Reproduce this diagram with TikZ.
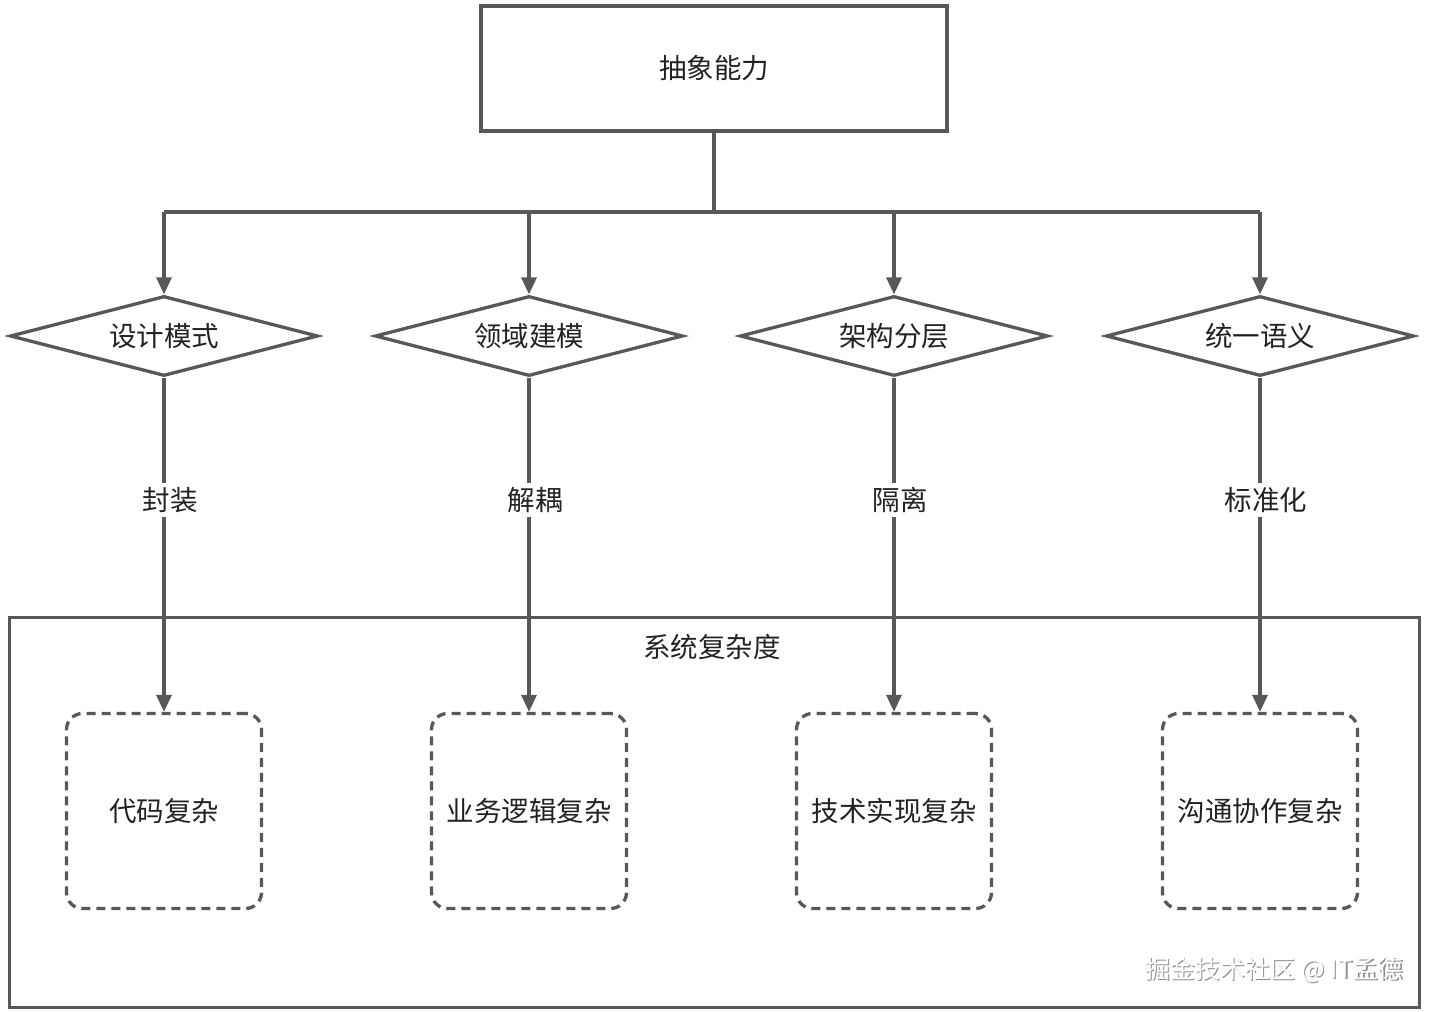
\documentclass[tikz,border=0pt]{standalone}
\usepackage{fontspec}
\setmainfont{Noto Sans CJK SC}
\usetikzlibrary{shapes.geometric,arrows.meta}
\definecolor{ln}{HTML}{585858}
\definecolor{tx}{HTML}{222222}
\tikzset{
  every node/.style={text=tx,font=\fontsize{27.5}{32}\selectfont},
  ln/.style={draw=ln,line width=3.3pt},
  arr/.style={ln,-{Triangle[length=17pt,width=15pt]}},
  dia/.style={diamond,ln,fill=white,minimum width=308pt,minimum height=80pt,inner sep=0pt,aspect=3.85},
  dbox/.style={ln,dash pattern=on 9pt off 6pt,rounded corners=16pt,minimum width=195pt,minimum height=195pt,inner sep=0pt},
  lbl/.style={fill=white,inner sep=4pt},
}
\begin{document}
\begin{tikzpicture}[x=1pt,y=-1pt]
\useasboundingbox (0,0) rectangle (1430,1012);
\node[ln,minimum width=466pt,minimum height=125pt] (top) at (714,68.5) {抽象能力};
\node[ln,minimum width=1410pt,minimum height=390pt,anchor=north west] (sys) at (8,616) {};
\node (systxt) at (712,647) {系统复杂度};
\coordinate (j) at (714,212);
\foreach \i/\x/\d/\l/\b in {1/164/设计模式/封装/代码复杂,2/529/领域建模/解耦/业务逻辑复杂,3/894/架构分层/隔离/技术实现复杂,4/1260/统一语义/标准化/沟通协作复杂}{
  \node[dia] (d\i) at (\x,336) {\d};
  \node[dbox] (b\i) at (\x,811) {\b};
  \coordinate (h\i) at (\x,212);
  \draw[arr] (h\i) -- (d\i.north);
  \draw[arr] (d\i.south) -- (b\i.north);
  \node[lbl] (l\i) at (\x+6,500) {\l};
}
\draw[ln] (top.south) -- (j);
\draw[ln] (h1) -- (h4);
\node[text=black!45,font=\fontsize{25}{29}\selectfont] (wms) at (1275.5,971.5) {掘金技术社区 @ IT孟德};
\node[text=white,font=\fontsize{25}{29}\selectfont] (wm) at (1274,970) {掘金技术社区 @ IT孟德};
\end{tikzpicture}
\end{document}
